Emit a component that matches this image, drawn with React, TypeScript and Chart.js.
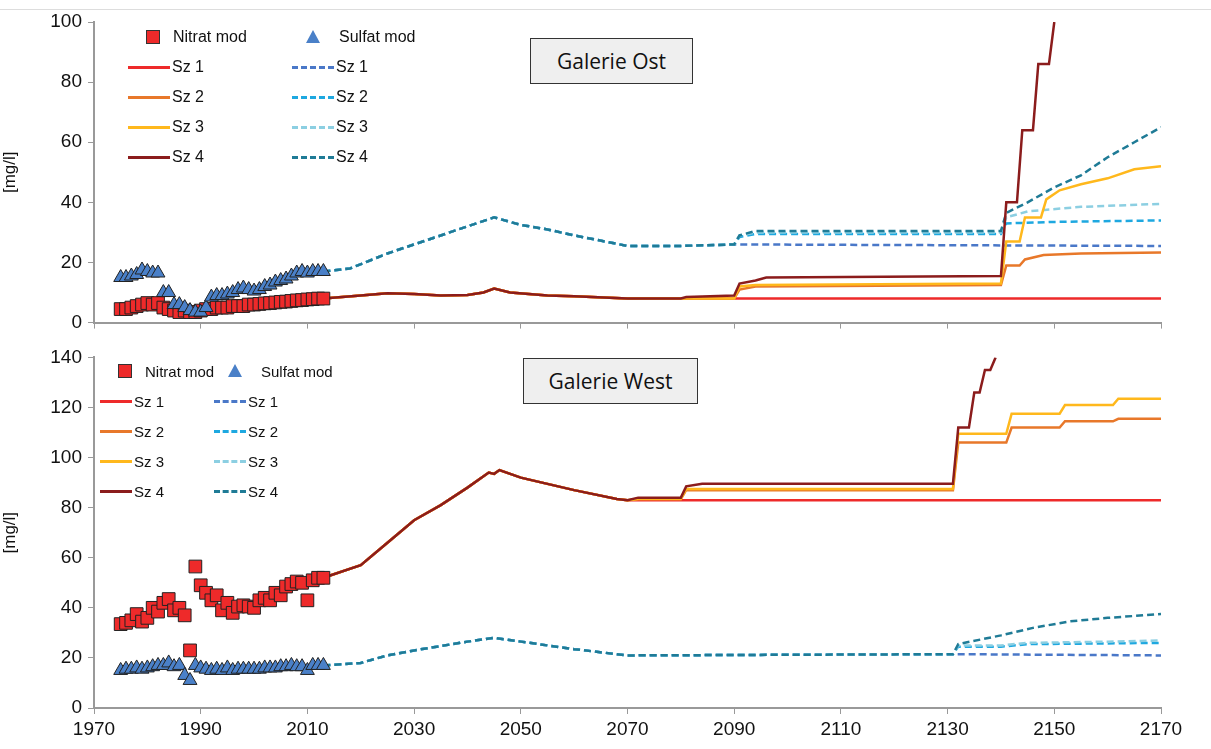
import React, { useEffect, useRef } from "react";
import { Chart, registerables } from "chart.js";
Chart.register(...registerables);

// ---------- DATA ----------
const obsYears = [1975,1976,1977,1978,1979,1980,1981,1982,1983,1984,1985,1986,1987,1988,1989,1990,1991,1992,1993,1994,1995,1996,1997,1998,1999,2000,2001,2002,2003,2004,2005,2006,2007,2008,2009,2010,2011,2012,2013];
const ostNitratObs = [4.5,4.5,5,5.5,6,6.5,6,6.5,5,4.5,4,3.5,4,3.5,3.5,4,4.5,4.5,5,5,5,5.5,5.5,5.5,6,6,6.2,6.4,6.5,6.7,6.9,7,7.2,7.4,7.5,7.7,7.8,8,8];
const ostSulfatObs = [15,15,15.5,16,17.5,17,16.5,16.5,10,10,6,6,5,4,3.5,3.5,5,8.5,9,9,9.5,10,11,11.5,11,10.5,11,12,12.5,13.5,14,14.5,15.5,16.5,17,16.5,17,17,17];
const westNitratObs = [33.5,34,35,37.5,34.5,36,40,38.5,42,43.5,39,40,37,23,56.5,49,46,43,45,39,42,38,40.5,41,40.5,40,43,44,43,46,45,48.5,49.5,50.5,50,43,51,52,52];
const westSulfatObs = [15,15.5,15.5,16,15.5,16,16.5,17,17,18,16.5,17,13,11,17,16,15.5,15,15.5,15,16,15,15.5,15.5,15.5,15.5,15.5,16,16,16,16.5,16.5,17,16.5,16.5,15,17,17,17];

// shared model part (years, values)
const ostNitratBaseX = [2013,2020,2025,2030,2035,2040,2043,2045,2048,2055,2060,2070,2080];
const ostNitratBaseY = [8,9,9.8,9.5,9,9.2,10,11.3,10,9,8.8,8,8];
const ostNitratSzX = [
  [2090,2170],
  [2090,2091,2094,2140,2141,2143.5,2144.5,2148,2155,2170],
  [2090,2091,2094,2140,2141,2143.5,2144.5,2147.5,2148.5,2151,2155,2160,2165,2170],
  [2081,2090,2091,2094,2096,2140,2141,2143,2144,2146,2147,2149,2150],
];
const ostNitratSzY = [
  [8,8],
  [8,11,12,12.5,19,19,21,22.5,23,23.3],
  [8,12,12.5,13,27,27,35,35,41,44,46,48,51,52],
  [8.5,9,13,14,15,15.5,40,40,64,64,86,86,100],
];
const ostSulfatBaseX = [2013,2018,2025,2030,2040,2045,2050,2055,2060,2070,2080,2090];
const ostSulfatBaseY = [17,18,23,26,32,35,32.5,31,29,25.5,25.5,26];
const ostSulfatSzX = [
  [2170],
  [2091,2094,2140,2141,2150,2170],
  [2091,2094,2140,2141,2145,2155,2170],
  [2091,2094,2140,2141,2145,2150,2155,2160,2165,2170],
];
const ostSulfatSzY = [
  [25.5],
  [28.5,29.5,29.5,33,33.5,34],
  [29,30,30,35,37,38.5,39.5],
  [29,30.5,30.5,36.5,40,45,49,55,60,65],
];
const westNitratBaseX = [2013,2020,2025,2030,2035,2040,2044,2045,2046,2050,2060,2068,2070];
const westNitratBaseY = [52,57,66,75,81,88,94,93.5,95,92,87,83.5,83];
const westNitratSzX = [
  [2170],
  [2072,2080,2081,2131,2132,2141,2142,2151,2152,2161,2162,2170],
  [2072,2080,2081,2131,2132,2141,2142,2151,2152,2161,2162,2170],
  [2072,2080,2081,2084,2131,2132,2134,2135,2136,2137,2138,2139],
];
const westNitratSzY = [
  [83],
  [83.5,83.5,87,87,106,106,112,112,114.5,114.5,115.5,115.5],
  [83.5,83.5,87.5,87.5,109.5,109.5,117.5,117.5,121,121,123.5,123.5],
  [84,84,88.5,89.5,89.5,112,112,126,126,135,135,140],
];
const westSulfatBaseX = [2013,2020,2025,2030,2040,2045,2050,2060,2070,2131];
const westSulfatBaseY = [17,18,21,23,26.5,28,26.5,23.5,21,21.5];
const westSulfatSzX = [
  [2170],
  [2132,2140,2145,2160,2170],
  [2132,2140,2145,2160,2170],
  [2132,2140,2146,2153,2160,2170],
];
const westSulfatSzY = [
  [21],
  [24.5,24.5,25.5,25.8,26],
  [25,25,26,26.5,27],
  [25.5,29,32,34.6,36,37.5],
];
const xTicks = [1970,1990,2010,2030,2050,2070,2090,2110,2130,2150,2170];
const szLabels = ["Sz 1","Sz 2","Sz 3","Sz 4"];
const nitratColors = ["#ee2a2a","#e8782a","#ffb81c","#8b1c1c"];
const sulfatColors = ["#4a78c8","#1ea8e0","#8ccfe2","#1f7b96"];

const pts = (xs: number[], ys: number[]) => xs.map((x, i) => ({ x, y: ys[i] }));

function buildDatasets(nBX, nBY, nSX, nSY, sBX, sBY, sSX, sSY, nObs, sObs) {
  const ds: any[] = [];
  ds.push({ type: "scatter", data: pts(obsYears, nObs), pointStyle: "rect", pointRadius: 9, backgroundColor: "#ee2a2a", borderColor: "#222", borderWidth: 1, order: 1 });
  ds.push({ type: "scatter", data: pts(obsYears, sObs), pointStyle: "triangle", pointRadius: 8, backgroundColor: "#4a80c8", borderColor: "#222", borderWidth: 1, order: 0 });
  for (let i = 0; i < 4; i++) {
    ds.push({ type: "line", data: pts(sBX.concat(sSX[i]), sBY.concat(sSY[i])), borderColor: sulfatColors[i], borderWidth: 2.5, borderDash: [7, 4], pointRadius: 0, order: 10 - i });
  }
  for (let i = 0; i < 4; i++) {
    ds.push({ type: "line", data: pts(nBX.concat(nSX[i]), nBY.concat(nSY[i])), borderColor: nitratColors[i], borderWidth: 2.5, pointRadius: 0, order: 5 - i });
  }
  return ds;
}

const FONT = "'Liberation Sans', Arial, sans-serif";

function makeOptions(yMax: number, yStep: number, showX: boolean, padTop: number, xHeight: number) {
  return {
    animation: false,
    responsive: false,
    maintainAspectRatio: false,
    layout: { padding: { top: padTop, right: 50, left: 0, bottom: 0 } },
    plugins: { legend: { display: false }, tooltip: { enabled: false } },
    scales: {
      x: {
        type: "linear", min: 1970, max: 2170,
        afterBuildTicks: (s: any) => { s.ticks = xTicks.map((v) => ({ value: v })); },
        afterFit: (s: any) => { s.height = xHeight; },
        grid: { drawOnChartArea: false, drawTicks: true, tickLength: 6, color: "#999" },
        border: { color: "#999", width: 2 },
        ticks: { display: showX, color: "#111", font: { family: FONT, size: 19 }, padding: 4, callback: (v: any) => String(v) },
      },
      y: {
        min: 0, max: yMax,
        afterFit: (s: any) => { s.width = 94; },
        grid: { drawOnChartArea: false, drawTicks: true, tickLength: 6, color: "#999" },
        border: { color: "#999", width: 2 },
        ticks: { stepSize: yStep, color: "#111", font: { family: FONT, size: 19 }, padding: 6 },
        title: { display: true, text: "[mg/l]", color: "#111", font: { family: FONT, size: 17 }, padding: { top: 0, bottom: 6 } },
      },
    },
  };
}

function Legend({ left, top, rowH, colW, font, lineW }) {
  const base: any = { position: "absolute", fontFamily: FONT, fontSize: font, color: "#111", whiteSpace: "nowrap", lineHeight: "1" };
  const items: any[] = [];
  items.push(<div key="sq" style={{ position: "absolute", left: left + 18, top: top - 7, width: 12, height: 12, background: "#ee2a2a", border: "1px solid #333" }} />);
  items.push(<div key="sqt" style={{ ...base, left: left + 45, top: top - font / 2 }}>Nitrat mod</div>);
  items.push(<div key="tr" style={{ position: "absolute", left: left + colW + 12, top: top - 7, width: 0, height: 0, borderLeft: "7px solid transparent", borderRight: "7px solid transparent", borderBottom: "13px solid #4a80c8" }} />);
  items.push(<div key="trt" style={{ ...base, left: left + colW + 45, top: top - font / 2 }}>Sulfat mod</div>);
  for (let i = 0; i < 4; i++) {
    const y = top + rowH * (i + 1);
    items.push(<div key={"nl" + i} style={{ position: "absolute", left, top: y - 1, width: lineW, borderTop: `3px solid ${nitratColors[i]}` }} />);
    items.push(<div key={"nt" + i} style={{ ...base, left: left + lineW + 2, top: y - font / 2 }}>{szLabels[i]}</div>);
    items.push(<div key={"sl" + i} style={{ position: "absolute", left: left + colW - 2, top: y - 1, width: lineW, borderTop: `3px dashed ${sulfatColors[i]}` }} />);
    items.push(<div key={"st" + i} style={{ ...base, left: left + colW + lineW, top: y - font / 2 }}>{szLabels[i]}</div>);
  }
  return <>{items}</>;
}

function TitleBox({ left, top, w, h, text }) {
  return <div style={{ position: "absolute", left, top, width: w, height: h, boxSizing: "border-box", border: "1.5px solid #333", background: "#efefef", display: "flex", alignItems: "center", justifyContent: "center", fontFamily: "'Open Sans', sans-serif", fontSize: 21, color: "#111" }}>{text}</div>;
}

export default function App() {
  const topRef = useRef<HTMLCanvasElement>(null);
  const botRef = useRef<HTMLCanvasElement>(null);
  useEffect(() => {
    document.body.style.margin = "0";
    const c1 = new Chart(topRef.current!, {
      type: "line",
      data: { datasets: buildDatasets(ostNitratBaseX, ostNitratBaseY, ostNitratSzX, ostNitratSzY, ostSulfatBaseX, ostSulfatBaseY, ostSulfatSzX, ostSulfatSzY, ostNitratObs, ostSulfatObs) },
      options: makeOptions(100, 20, false, 22, 17) as any,
    });
    const c2 = new Chart(botRef.current!, {
      type: "line",
      data: { datasets: buildDatasets(westNitratBaseX, westNitratBaseY, westNitratSzX, westNitratSzY, westSulfatBaseX, westSulfatBaseY, westSulfatSzX, westSulfatSzY, westNitratObs, westSulfatObs) },
      options: makeOptions(140, 20, true, 12, 41) as any,
    });
    return () => { c1.destroy(); c2.destroy(); };
  }, []);
  return (
    <div style={{ position: "relative", width: 1211, height: 749, background: "#fff", overflow: "hidden" }}>
      <div style={{ position: "absolute", left: 0, top: 9, width: 1211, borderTop: "1px solid #ddd" }} />
      <canvas ref={topRef} width={1211} height={340} style={{ position: "absolute", left: 0, top: 0, width: 1211, height: 340 }} />
      <canvas ref={botRef} width={1211} height={409} style={{ position: "absolute", left: 0, top: 340, width: 1211, height: 409 }} />
      <Legend left={128} top={37} rowH={30} colW={166} font={16} lineW={42} />
      <Legend left={100} top={371} rowH={30} colW={116} font={15} lineW={32} />
      <TitleBox left={530} top={38} w={163} h={46} text="Galerie Ost" />
      <TitleBox left={523} top={358} w={175} h={46} text="Galerie West" />
    </div>
  );
}
